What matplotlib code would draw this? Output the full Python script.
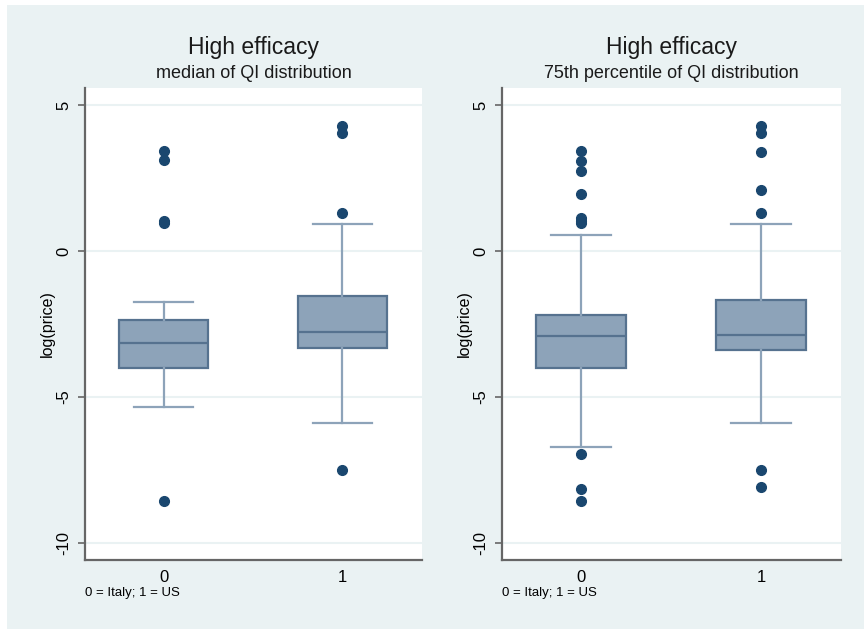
import matplotlib
matplotlib.use("Agg")
from matplotlib import pyplot as plt
from matplotlib.patches import Rectangle

# box statistics (log(price)), groups 0 = Italy, 1 = US
groups = [0, 1]
group_labels = ["0", "1"]

# panel 1: median of QI distribution
med_q1 = [-4.02, -3.34]
med_median = [-3.16, -2.78]
med_q3 = [-2.37, -1.53]
med_whislo = [-5.35, -5.90]
med_whishi = [-1.74, 0.92]
med_fliers = [[3.44, 3.11, 1.04, 0.95, -8.56],
              [4.28, 4.06, 1.31, -7.50]]

# panel 2: 75th percentile of QI distribution
p75_q1 = [-4.02, -3.41]
p75_median = [-2.92, -2.88]
p75_q3 = [-2.20, -1.68]
p75_whislo = [-6.72, -5.90]
p75_whishi = [0.54, 0.92]
p75_fliers = [[3.44, 3.10, 2.76, 1.94, 1.12, 1.04, 0.95, -6.96, -8.17, -8.56],
              [4.28, 4.06, 3.39, 2.08, 1.31, -7.50, -8.09]]

titles = ["High efficacy", "High efficacy"]
subtitles = ["median of QI distribution", "75th percentile of QI distribution"]
yticks = [-10, -5, 0, 5]
note = "0 = Italy; 1 = US"

plt.rcParams['font.family'] = ['Liberation Sans', 'DejaVu Sans']

bg = '#EAF2F3'
box_fill = '#8DA3B9'
box_edge = '#56728F'
dot = '#1A476F'
axis_col = '#666666'

fig = plt.figure(figsize=(8.64, 6.32), dpi=100)
fig.patch.set_facecolor('white')
fig.patches.append(Rectangle((7 / 864, 1 - 629 / 632), 1 - 7 / 864, 624 / 632,
                             transform=fig.transFigure, facecolor=bg,
                             edgecolor='none', zorder=-10))

ax1 = fig.add_axes([85 / 864, 1 - 560 / 632, 337 / 864, 472 / 632])
ax2 = fig.add_axes([502 / 864, 1 - 560 / 632, 339 / 864, 472 / 632])


def make_stats(q1, med, q3, lo, hi, fl):
    out = []
    for i in range(len(q1)):
        out.append({'q1': q1[i], 'med': med[i], 'q3': q3[i],
                    'whislo': lo[i], 'whishi': hi[i], 'fliers': fl[i]})
    return out


panels = [
    (ax1, make_stats(med_q1, med_median, med_q3, med_whislo, med_whishi, med_fliers)),
    (ax2, make_stats(p75_q1, p75_median, p75_q3, p75_whislo, p75_whishi, p75_fliers)),
]

for k, (ax, stats) in enumerate(panels):
    ax.set_facecolor('white')
    ax.bxp(stats, positions=groups, widths=0.5, capwidths=0.33,
           patch_artist=True, showfliers=True,
           boxprops=dict(facecolor=box_fill, edgecolor=box_edge, linewidth=1.6),
           medianprops=dict(color=box_edge, linewidth=1.6),
           whiskerprops=dict(color=box_fill, linewidth=1.6),
           capprops=dict(color=box_fill, linewidth=1.6),
           flierprops=dict(marker='o', markerfacecolor=dot, markeredgecolor=dot,
                           markersize=7, linestyle='none'))

    ax.set_xlim(-0.44, 1.445)
    ax.set_ylim(-10.6, 5.59)
    ax.set_yticks(yticks)
    ax.set_yticklabels([str(t) for t in yticks])
    ax.set_xticks(groups)
    ax.set_xticklabels(group_labels)
    ax.yaxis.grid(True, color=bg, linewidth=1.5)
    ax.set_axisbelow(True)

    for side in ['top', 'right']:
        ax.spines[side].set_visible(False)
    for side in ['left', 'bottom']:
        ax.spines[side].set_color(axis_col)
        ax.spines[side].set_linewidth(1.6)

    ax.tick_params(axis='y', length=5, width=1.2, color=axis_col, pad=5,
                   labelsize=12, labelrotation=90)
    for lab in ax.get_yticklabels():
        lab.set_va('center')
    ax.tick_params(axis='x', length=0, pad=7, labelsize=12)

    ax.text(-0.112, 0.5, 'log(price)', transform=ax.transAxes, rotation=90,
            ha='center', va='center', fontsize=11.5)
    ax.text(0.5, 1.085, titles[k], transform=ax.transAxes, ha='center',
            va='center', fontsize=16.5, color='#1a1a1a')
    ax.text(0.5, 1.031, subtitles[k], transform=ax.transAxes, ha='center',
            va='center', fontsize=13, color='#1a1a1a')
    ax.text(0.0, -0.07, note, transform=ax.transAxes, ha='left', va='center',
            fontsize=9.5)

fig.savefig('out.png', dpi=100, facecolor=fig.get_facecolor())
